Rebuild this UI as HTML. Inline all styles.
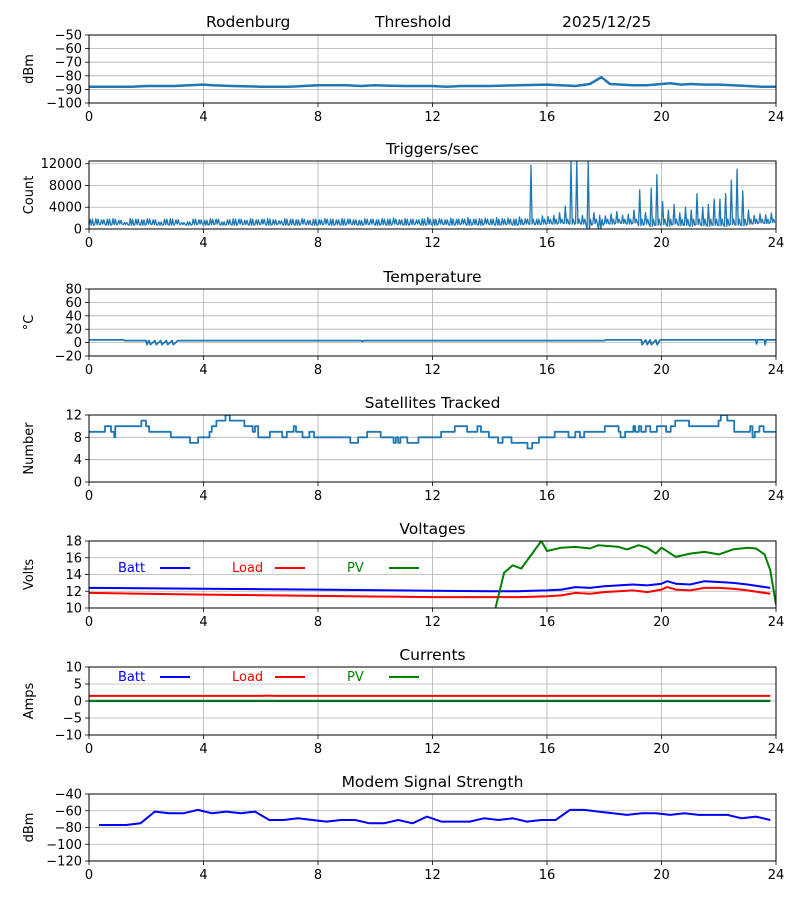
<!DOCTYPE html>
<html><head><meta charset="utf-8"><style>
body{margin:0;background:#fff;}
svg{display:block;font-family:"DejaVu Sans","Liberation Sans",sans-serif;}
</style></head><body>
<svg id="c" width="800" height="900" viewBox="0 0 800 900">
<text x="206" y="27" font-size="15.5">Rodenburg</text>
<text x="375" y="27" font-size="15.5">Threshold</text>
<text x="562" y="27" font-size="15.5">2025/12/25</text>
</svg>
<script>
// Signal
const sigHours=[0,1,1.5,2,3,3.5,4,4.3,5,6,7,7.5,8,9,9.5,10,11,12,12.5,13,14,15,16,17,17.5,17.9,18.2,18.6,19,19.5,20,20.3,20.7,21,21.5,22,22.5,23,23.5,24];
const sigVals=[-88,-88,-88,-87.5,-87.5,-87,-86.5,-87,-87.5,-88,-88,-87.5,-87,-87,-87.5,-87,-87.5,-87.5,-88,-87.5,-87.5,-87,-86.5,-87.5,-86,-81,-86,-86.5,-87,-87,-86,-85.5,-86.5,-86,-86.5,-86.5,-87,-87.5,-88,-88];
// Triggers (per 0.2 h: band high / low)
const trigHi=[1800,1900,1700,1800,1900,1600,1200,1900,1800,1700,1900,1700,1300,1800,1900,1700,1200,1300,1800,1700,1600,1900,1800,1300,1700,1900,1800,1600,1900,1700,1800,1900,1700,1500,1900,1800,1700,1900,1600,1800,1700,1900,1800,1700,1900,1800,1700,1600,1900,1800,1700,1900,1800,2000,1700,1900,1800,1700,1900,2100,1800,1900,1700,2000,1800,1900,2100,1800,1900,2000,1800,2100,1900,2000,1800,2200,1900,11700,1800,2400,2300,2500,3000,4200,12500,12500,2500,12500,3000,2500,2400,2800,3200,2500,2700,3500,7200,3000,7500,10000,5000,3500,4500,3000,4000,3500,6500,4000,4500,5500,5500,6500,9000,11000,7000,3500,2500,2800,2600,2900];
const trigLo=[700,800,900,700,800,900,800,700,800,700,900,800,700,800,700,900,800,700,800,900,700,800,900,700,800,700,900,800,700,800,900,700,800,900,700,800,700,900,800,700,800,900,700,800,700,900,800,700,800,900,700,800,700,900,800,700,800,900,700,800,700,900,800,700,800,900,700,800,700,900,800,700,800,900,700,800,900,900,800,900,1000,900,1100,1000,900,1000,900,0,1000,0,1000,900,1100,1000,900,1100,600,900,500,700,800,500,900,600,700,500,800,600,500,700,600,500,800,700,600,900,1000,1100,1000,1200];
// Temperature
const tempHours=[0,1.2,1.25,2.0,2.02,2.1,2.15,2.3,2.35,2.5,2.55,2.7,2.75,2.9,2.95,3.1,9.5,9.55,9.6,18,18.05,19.3,19.32,19.45,19.5,19.6,19.65,19.8,19.85,19.95,20.0,23.3,23.32,23.35,23.6,23.62,23.65,24];
const tempVals=[4,4,3,3,-3,3,-3,3,-3,3,-3,3,-3,3,-3,3,3,2,3,3,4,4,-3,4,-3,4,-3,4,-3,4,4,4,-2,4,4,-3,4,4];
// Satellites (step)
const satHours=[0,0.56,0.77,0.88,0.92,1.83,1.99,2.10,2.86,3.53,3.81,4.21,4.29,4.45,4.77,4.92,5.43,5.72,5.80,5.91,6.32,6.75,6.91,7.15,7.23,7.46,7.70,7.86,9.13,9.40,9.72,10.19,10.64,10.72,10.80,10.88,11.12,11.51,12.30,12.78,13.21,13.57,13.69,13.97,14.29,14.45,14.76,15.32,15.48,15.72,16.27,16.75,16.99,17.15,17.30,18.02,18.50,18.57,18.73,19.02,19.08,19.21,19.29,19.45,19.61,19.84,20.16,20.32,20.48,20.96,21.99,22.07,22.30,22.54,23.10,23.18,23.26,23.42,23.57,24];
const satVals=[9,10,9,8,10,11,10,9,8,7,8,9,10,11,12,11,10,9,10,8,9,8,9,10,9,8,9,8,7,8,9,8,7,8,7,8,7,8,9,10,9,10,9,8,7,8,7,6,7,8,9,8,9,8,9,10,9,8,9,10,9,10,9,10,9,10,9,10,11,10,11,12,11,9,10,8,9,10,9,9];
// Voltages
const battHours=[0,4,8,12,14,15,15.5,16,16.5,17,17.5,18,18.5,19,19.5,20,20.2,20.5,21,21.5,22,22.5,23,23.8];
const battVals=[12.4,12.3,12.2,12.05,12.0,12.0,12.05,12.1,12.2,12.5,12.4,12.6,12.7,12.8,12.7,12.9,13.2,12.9,12.8,13.2,13.1,13.0,12.8,12.4];
const loadVals=[11.8,11.6,11.45,11.3,11.3,11.3,11.35,11.4,11.5,11.8,11.7,11.9,12.0,12.1,11.9,12.2,12.5,12.2,12.1,12.4,12.4,12.3,12.1,11.7];
const pvHours=[14.2,14.5,14.8,15.1,15.8,16.0,16.5,17.0,17.5,17.8,18.5,18.8,19.2,19.5,19.8,20.0,20.5,21.0,21.5,22.0,22.5,23.0,23.3,23.6,23.8,24.0];
const pvVals=[10.0,14.2,15.1,14.7,18.0,16.8,17.2,17.3,17.1,17.5,17.3,17.0,17.5,17.2,16.5,17.2,16.1,16.5,16.7,16.4,17.0,17.2,17.1,16.4,14.5,10.4];
// Currents
const curHours=[0,4,6,6.3,6.5,8,12,16,18,20,22,23.8];
const curBatt=[0,0,0,0,0,0,0,0,0,0,0,0];
const curLoad=[1.5,1.5,1.5,1.6,1.5,1.5,1.5,1.5,1.5,1.5,1.5,1.5];
const curPV=[0.1,0.1,0.1,0.1,0.1,0.1,0.1,0.1,0.1,0.1,0.1,0.1];
// Modem
const modemHours=[0.35,1.3,1.8,2.3,2.8,3.3,3.8,4.3,4.8,5.3,5.8,6.3,6.8,7.3,7.8,8.3,8.8,9.3,9.8,10.3,10.8,11.3,11.8,12.3,12.8,13.3,13.8,14.3,14.8,15.3,15.8,16.3,16.8,17.3,17.8,18.3,18.8,19.3,19.8,20.3,20.8,21.3,21.8,22.3,22.8,23.3,23.8];
const modemVals=[-77,-77,-75,-61,-63,-63,-59,-63,-61,-63,-61,-71,-71,-69,-71,-73,-71,-71,-75,-75,-71,-75,-67,-73,-73,-73,-69,-71,-69,-73,-71,-71,-59,-59,-61,-63,-65,-63,-63,-65,-63,-65,-65,-65,-69,-67,-71];
const xTicks=[0,4,8,12,16,20,24];

const NS="http://www.w3.org/2000/svg";
const svg=document.getElementById('c');
const L=89,R=776;
const xs=h=>L+(R-L)*h/24;
function mk(tag,attrs,parent){const e=document.createElementNS(NS,tag);for(const k in attrs)e.setAttribute(k,attrs[k]);(parent||svg).appendChild(e);return e;}
let clipN=0;
function panel(name,title,ylabel,top,bot,ymin,ymax,yticks,ytlabels){
  const g=mk('g',{});
  
  
  const ys=v=>bot-(bot-top)*(v-ymin)/(ymax-ymin);
  xTicks.forEach(t=>{const l=mk('line',{x1:xs(t),x2:xs(t),y1:top,y2:bot,stroke:'#b0b0b0','stroke-width':0.8},g);
    });
  yticks.forEach((t,i)=>{const y=ys(t);
    const l=mk('line',{x1:L,x2:R,y1:y,y2:y,stroke:'#b0b0b0','stroke-width':0.8},g);
    
    mk('line',{x1:L-4,x2:L,y1:y,y2:y,stroke:'#000','stroke-width':0.8},g);
    const tx=mk('text',{x:L-7,y:y+4.5,'font-size':13,'text-anchor':'end'},g);tx.textContent=ytlabels[i];
    });
  xTicks.forEach(t=>{mk('line',{x1:xs(t),x2:xs(t),y1:bot,y2:bot+4,stroke:'#000','stroke-width':0.8},g);
    const tx=mk('text',{x:xs(t),y:bot+18,'font-size':13,'text-anchor':'middle'},g);tx.textContent=t;
    });
  if(title){const tt=mk('text',{x:(L+R)/2,y:top-7,'font-size':15.5,'text-anchor':'middle'},g);tt.textContent=title;
    }
  const yl=mk('text',{x:0,y:0,'font-size':13,'text-anchor':'middle',transform:`translate(33,${(top+bot)/2}) rotate(-90)`},g);yl.textContent=ylabel;
  
  const id='cp'+(clipN++);
  const cp=mk('clipPath',{id:id},g);mk('rect',{x:L,y:top,width:R-L,height:bot-top},cp);
  const plot=mk('g',{'clip-path':`url(#${id})`},g);
  const fr=mk('rect',{x:L,y:top,width:R-L,height:bot-top,fill:'none',stroke:'#000','stroke-width':1},g);
  
  return {g,plot,ys};
}
function line(p,pts,color,w,name){
  const pl=mk('polyline',{points:pts.map(q=>q[0].toFixed(1)+','+q[1].toFixed(1)).join(' '),fill:'none',stroke:color,'stroke-width':w,'stroke-linejoin':'round'},p.plot);
  
}
const C='#1f77b4';
// 1 signal
let p=panel('signal',null,'dBm',35,103,-100,-50,[-100,-90,-80,-70,-60,-50],['−100','−90','−80','−70','−60','−50']);
line(p,sigHours.map((h,i)=>[xs(h),p.ys(sigVals[i])]),C,2.5,'signal-line');
// 2 triggers
p=panel('triggers','Triggers/sec','Count',161,229,0,12500,[0,4000,8000,12000],['0','4000','8000','12000']);
{const pts=[];trigHi.forEach((v,i)=>{const h=i*0.2;
  pts.push([xs(h),p.ys(trigLo[i])]);pts.push([xs(h+0.04),p.ys(v)]);pts.push([xs(h+0.08),p.ys(trigLo[i])]);
  pts.push([xs(h+0.12),p.ys(Math.min(v,1800))]);pts.push([xs(h+0.16),p.ys(Math.max(trigLo[i],700))]);});
line(p,pts,C,1.3,'triggers-line');}
// 3 temperature
p=panel('temperature','Temperature','°C',289,356,-20,80,[-20,0,20,40,60,80],['−20','0','20','40','60','80']);
line(p,tempHours.map((h,i)=>[xs(h),p.ys(tempVals[i])]),C,1.8,'temperature-line');
// 4 satellites
p=panel('satellites','Satellites Tracked','Number',415,482,0,12,[0,4,8,12],['0','4','8','12']);
{const pts=[];satHours.forEach((h,i)=>{if(i>0)pts.push([xs(h),p.ys(satVals[i-1])]);pts.push([xs(h),p.ys(satVals[i])]);});
line(p,pts,C,1.8,'satellites-line');}
function legend(p,y){
  [['Batt','#0000ff',118,160],['Load','#ff0000',232,275],['PV','#008000',347,389]].forEach(a=>{
    const t=mk('text',{x:a[2],y:y+5,'font-size':13,fill:a[1]},p.g);t.textContent=a[0];
    
    mk('line',{x1:a[3],x2:a[3]+30,y1:y+1,y2:y+1,stroke:a[1],'stroke-width':2},p.g);});
}
// 5 voltages
p=panel('voltages','Voltages','Volts',541,608,10,18,[10,12,14,16,18],['10','12','14','16','18']);
line(p,battHours.map((h,i)=>[xs(h),p.ys(battVals[i])]),'#0000ff',2,'batt-voltage-line');
line(p,battHours.map((h,i)=>[xs(h),p.ys(loadVals[i])]),'#ff0000',2,'load-voltage-line');
line(p,pvHours.map((h,i)=>[xs(h),p.ys(pvVals[i])]),'#008000',2,'pv-voltage-line');
legend(p,567);
// 6 currents
p=panel('currents','Currents','Amps',667,735,-10,10,[-10,-5,0,5,10],['−10','−5','0','5','10']);
line(p,curHours.map((h,i)=>[xs(h),p.ys(curBatt[i])]),'#0000ff',2,'batt-current-line');
line(p,curHours.map((h,i)=>[xs(h),p.ys(curLoad[i])]),'#ff0000',2,'load-current-line');
line(p,curHours.map((h,i)=>[xs(h),p.ys(curPV[i])]),'#008000',2,'pv-current-line');
legend(p,676);
// 7 modem
p=panel('modem','Modem Signal Strength','dBm',794,861,-120,-40,[-120,-100,-80,-60,-40],['−120','−100','−80','−60','−40']);
line(p,modemHours.map((h,i)=>[xs(h),p.ys(modemVals[i])]),'#0000ff',2,'modem-signal-line');
</script>
</body></html>
